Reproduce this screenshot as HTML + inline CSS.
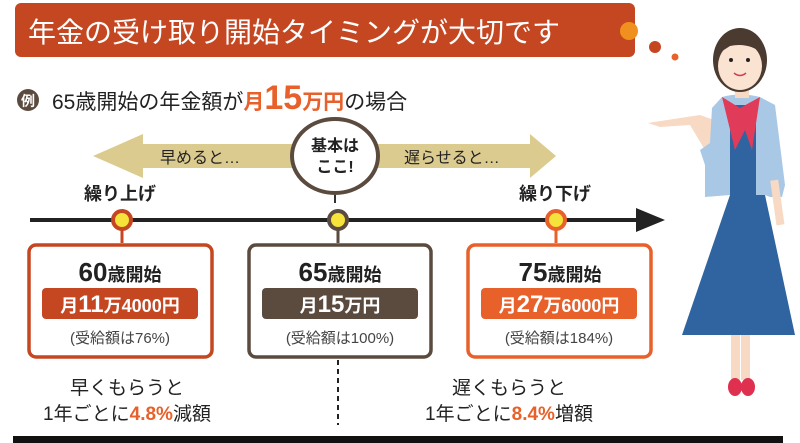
<!DOCTYPE html>
<html><head><meta charset="utf-8"><style>
html,body{margin:0;padding:0;background:#fff;}
svg{display:block;font-family:"Liberation Sans","Noto Sans CJK JP",sans-serif;}
</style></head><body>
<svg width="800" height="443" viewBox="0 0 800 443" xmlns="http://www.w3.org/2000/svg">
<rect width="800" height="443" fill="#fff"/>
<!-- title -->
<rect x="15" y="3" width="620" height="54" rx="6" fill="#c54722"/>
<text x="28" y="42" font-size="28" fill="#fff">年金の受け取り開始タイミングが大切です</text>
<circle cx="629" cy="31" r="9" fill="#f0901e"/>
<circle cx="655" cy="47" r="6" fill="#c54722"/>
<circle cx="675" cy="57" r="3.5" fill="#e8602a"/>
<!-- example -->
<circle cx="28" cy="100" r="11" fill="#5b4a3e"/>
<text x="28" y="106" font-size="14" fill="#fff" text-anchor="middle" font-weight="bold">例</text>
<text x="52" y="109" font-size="21" fill="#222">65歳開始の年金額が<tspan fill="#e8602a" font-weight="bold">月</tspan><tspan fill="#e8602a" font-weight="bold" font-size="34">15</tspan><tspan fill="#e8602a" font-weight="bold">万円</tspan>の場合</text>
<!-- double arrow -->
<polygon points="93,156 143,134 143,144 530,144 530,134 556,156 530,178 530,168 143,168 143,178" fill="#dccb8e"/>
<text x="160" y="163" font-size="16" fill="#222">早めると…</text>
<text x="404" y="163" font-size="16" fill="#222">遅らせると…</text>
<ellipse cx="335" cy="156" rx="43" ry="37" fill="#fff" stroke="#5b4a3e" stroke-width="4"/>
<text x="335" y="151" font-size="16" fill="#222" text-anchor="middle" font-weight="bold">基本は</text>
<text x="335" y="172" font-size="16" fill="#222" text-anchor="middle" font-weight="bold">ここ!</text>
<line x1="335" y1="195" x2="335" y2="203" stroke="#333" stroke-width="2"/>
<text x="120" y="200" font-size="18" fill="#222" text-anchor="middle" font-weight="bold">繰り上げ</text>
<text x="555" y="200" font-size="18" fill="#222" text-anchor="middle" font-weight="bold">繰り下げ</text>
<!-- timeline -->
<line x1="30" y1="220" x2="640" y2="220" stroke="#222" stroke-width="4"/>
<polygon points="636,208 665,220 636,232" fill="#222"/>
<line x1="122" y1="220" x2="122" y2="243" stroke="#c54722" stroke-width="3"/>
<line x1="338" y1="220" x2="338" y2="243" stroke="#5b4a3e" stroke-width="3"/>
<line x1="556" y1="220" x2="556" y2="243" stroke="#e8602a" stroke-width="3"/>
<circle cx="122" cy="220" r="9" fill="#f5e23a" stroke="#c54722" stroke-width="4"/>
<circle cx="338" cy="220" r="9" fill="#f5e23a" stroke="#5b4a3e" stroke-width="4"/>
<circle cx="556" cy="220" r="9" fill="#f5e23a" stroke="#e8602a" stroke-width="4"/>
<!-- boxes -->
<rect x="29" y="245" width="183" height="112" rx="7" fill="#fff" stroke="#c54722" stroke-width="3.5"/>
<rect x="249" y="245" width="182" height="112" rx="7" fill="#fff" stroke="#5b4a3e" stroke-width="3.5"/>
<rect x="468" y="245" width="183" height="112" rx="7" fill="#fff" stroke="#e8602a" stroke-width="3.5"/>
<text x="120" y="281" font-size="26" fill="#222" text-anchor="middle" font-weight="bold">60<tspan font-size="18">歳開始</tspan></text>
<text x="340" y="281" font-size="26" fill="#222" text-anchor="middle" font-weight="bold">65<tspan font-size="18">歳開始</tspan></text>
<text x="560" y="281" font-size="26" fill="#222" text-anchor="middle" font-weight="bold">75<tspan font-size="18">歳開始</tspan></text>
<rect x="42" y="288" width="156" height="31" rx="4" fill="#c54722"/>
<rect x="262" y="288" width="156" height="31" rx="4" fill="#5b4a3e"/>
<rect x="481" y="288" width="156" height="31" rx="4" fill="#e8602a"/>
<text x="120" y="312" font-size="18" fill="#fff" text-anchor="middle" font-weight="bold">月<tspan font-size="24">11</tspan>万4000円</text>
<text x="340" y="312" font-size="18" fill="#fff" text-anchor="middle" font-weight="bold">月<tspan font-size="24">15</tspan>万円</text>
<text x="559" y="312" font-size="18" fill="#fff" text-anchor="middle" font-weight="bold">月<tspan font-size="24">27</tspan>万6000円</text>
<text x="120" y="343" font-size="15" fill="#444" text-anchor="middle">(受給額は76%)</text>
<text x="340" y="343" font-size="15" fill="#444" text-anchor="middle">(受給額は100%)</text>
<text x="559" y="343" font-size="15" fill="#444" text-anchor="middle">(受給額は184%)</text>
<line x1="338" y1="360" x2="338" y2="425" stroke="#222" stroke-width="2" stroke-dasharray="5,4"/>
<text x="127" y="394" font-size="19" fill="#222" text-anchor="middle">早くもらうと</text>
<text x="127" y="420" font-size="19" fill="#222" text-anchor="middle">1年ごとに<tspan fill="#e8602a" font-weight="bold">4.8%</tspan>減額</text>
<text x="509" y="394" font-size="19" fill="#222" text-anchor="middle">遅くもらうと</text>
<text x="509" y="420" font-size="19" fill="#222" text-anchor="middle">1年ごとに<tspan fill="#e8602a" font-weight="bold">8.4%</tspan>増額</text>
<rect x="13" y="436" width="770" height="7" fill="#111"/>
<!-- woman -->
<path d="M728,125 L700,115 L680,118 L648,123 L660,127 L690,125 L705,150 Z" fill="#f7d9c4"/>
<polygon points="730,195 765,195 795,335 682,335" fill="#2f64a0"/>
<path d="M722,97 Q740,92 760,97 L775,105 L785,185 L782,197 L770,197 L765,195 L730,195 L705,197 L705,165 L700,150 L710,143 L712,108 Z" fill="#a8c8e6"/>
<rect x="730" y="105" width="26" height="92" fill="#2f64a0"/>
<polygon points="722,97 740,108 760,97 752,150 745,130 735,150" fill="#e03c5a"/>
<rect x="773" y="180" width="8" height="45" fill="#f7d9c4" transform="rotate(-8 777 200)"/>
<rect x="731" y="335" width="9" height="45" fill="#f7d9c4"/>
<rect x="741" y="335" width="9" height="45" fill="#f7d9c4"/>
<ellipse cx="735" cy="387" rx="7" ry="9" fill="#e0304f"/>
<ellipse cx="748" cy="387" rx="7" ry="9" fill="#e0304f"/>
<rect x="735" y="80" width="14" height="18" fill="#f7d9c4"/>
<ellipse cx="740" cy="60" rx="27" ry="32" fill="#4a3a30"/>
<ellipse cx="740" cy="66" rx="22" ry="24" fill="#fbe3d2"/>
<path d="M716,55 Q722,30 745,32 Q762,36 764,55 Q750,42 730,46 Z" fill="#4a3a30"/>
<circle cx="731" cy="60" r="2" fill="#222"/>
<circle cx="748" cy="60" r="2" fill="#222"/>
<path d="M734,73 Q740,78 746,73" stroke="#d04050" stroke-width="1.5" fill="none"/>
</svg>
</body></html>
